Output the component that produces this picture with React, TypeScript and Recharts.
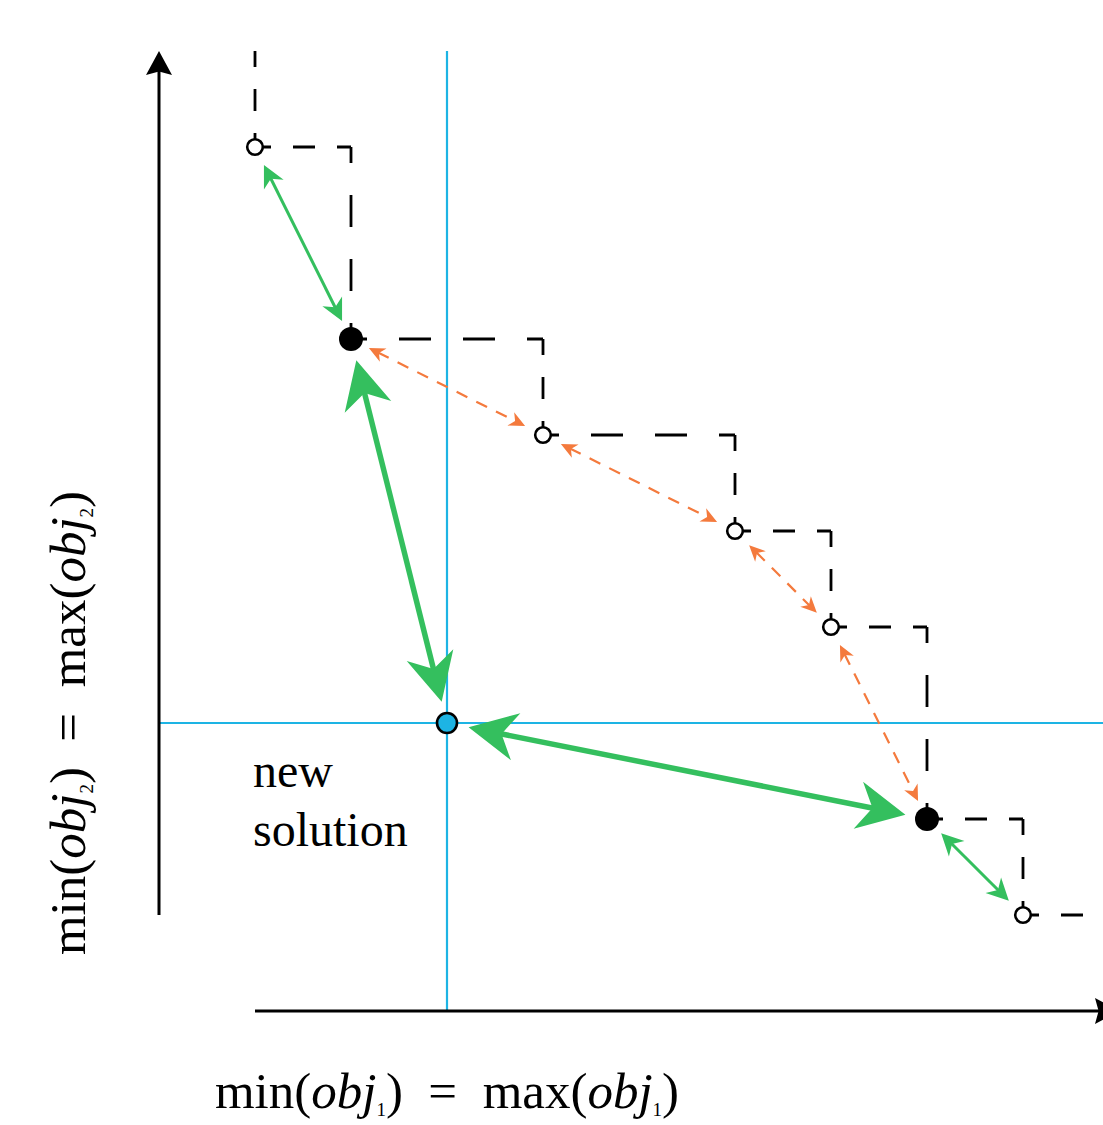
import React from 'react'
import { ComposedChart, XAxis, YAxis, Scatter, ReferenceLine } from 'recharts'

type Pt = { x: number; y: number }

// dominated front (obj1, obj2), walked from top-left to bottom-right
const frontier: Pt[] = [
  { x: 1, y: 10 }, { x: 1, y: 9 }, { x: 2, y: 7 }, { x: 4, y: 6 }, { x: 6, y: 5 },
  { x: 7, y: 4 }, { x: 8, y: 2 }, { x: 9, y: 1 }, { x: 10, y: 1 },
]
const openPoints: Pt[] = [{ x: 1, y: 9 }, { x: 4, y: 6 }, { x: 6, y: 5 }, { x: 7, y: 4 }, { x: 9, y: 1 }]
const neighbourPoints: Pt[] = [{ x: 2, y: 7 }, { x: 8, y: 2 }]
const newPoint: Pt[] = [{ x: 3, y: 3 }]

const thinLinks: Pt[][] = [
  [{ x: 1, y: 9 }, { x: 2, y: 7 }],
  [{ x: 8, y: 2 }, { x: 9, y: 1 }],
]
const thickLinks: Pt[][] = [
  [{ x: 2, y: 7 }, { x: 3, y: 3 }],
  [{ x: 3, y: 3 }, { x: 8, y: 2 }],
]
const removedLinks: Pt[][] = [
  [{ x: 2, y: 7 }, { x: 4, y: 6 }],
  [{ x: 4, y: 6 }, { x: 6, y: 5 }],
  [{ x: 6, y: 5 }, { x: 7, y: 4 }],
  [{ x: 7, y: 4 }, { x: 8, y: 2 }],
]

const axisX: Pt[] = [{ x: 1, y: 0 }, { x: 10, y: 0 }]
const axisY: Pt[] = [{ x: 0, y: 1 }, { x: 0, y: 10 }]
const newX = 3
const newY = 3

const GREEN = '#34BF5E'
const ORANGE = '#F47A3D'
const BLUE = '#1DB4E4'
const FONT = '"Liberation Serif", "DejaVu Serif", serif'
const SP = '\u00A0'

// horizontal + vertical pieces of the staircase
const steps: Pt[][] = []
for (let i = 0; i < frontier.length - 1; i++) {
  const a = frontier[i], b = frontier[i + 1]
  if (a.x !== b.x) steps.push([{ x: a.x, y: a.y }, { x: b.x, y: a.y }])
  if (a.y !== b.y) steps.push([{ x: b.x, y: a.y }, { x: b.x, y: b.y }])
}

const stepShape = (p: any) => {
  const len = Math.hypot(p.x2 - p.x1, p.y2 - p.y1)
  const d = len > 150 ? 32 : 22
  return (
    <line x1={p.x1} y1={p.y1} x2={p.x2} y2={p.y2} stroke="#000" strokeWidth={2.8}
          strokeDasharray={`${d} ${d}`} strokeDashoffset={d - 16} />
  )
}

type ArrowOpt = { color: string; width: number; gap: number; L: number; W: number; notch: number; dash?: string; both: boolean }

function arrowShape(o: ArrowOpt) {
  return (p: any) => {
    const dx = p.x2 - p.x1, dy = p.y2 - p.y1
    const len = Math.hypot(dx, dy)
    const ux = dx / len, uy = dy / len
    const nx = -uy, ny = ux
    const sx = p.x1 + ux * o.gap, sy = p.y1 + uy * o.gap
    const ex = p.x2 - ux * o.gap, ey = p.y2 - uy * o.gap
    const head = (tx: number, ty: number, dx0: number, dy0: number) => {
      const bx = tx - dx0 * o.L, by = ty - dy0 * o.L
      const mx = tx - dx0 * o.L * o.notch, my = ty - dy0 * o.L * o.notch
      const pts = [
        [tx, ty], [bx + nx * o.W / 2, by + ny * o.W / 2], [mx, my], [bx - nx * o.W / 2, by - ny * o.W / 2],
      ]
      return pts.map(q => q.join(',')).join(' ')
    }
    const back = o.L * o.notch * 0.9
    const lx1 = o.both ? sx + ux * back : sx
    const ly1 = o.both ? sy + uy * back : sy
    return (
      <g>
        <line x1={lx1} y1={ly1} x2={ex - ux * back} y2={ey - uy * back}
              stroke={o.color} strokeWidth={o.width} strokeDasharray={o.dash} />
        <polygon points={head(ex, ey, ux, uy)} fill={o.color} />
        {o.both && <polygon points={head(sx, sy, -ux, -uy)} fill={o.color} />}
      </g>
    )
  }
}

const thinArrow = arrowShape({ color: GREEN, width: 3, gap: 20, L: 22, W: 22, notch: 0.7, both: true })
const thickArrow = arrowShape({ color: GREEN, width: 5.5, gap: 22, L: 48, W: 48, notch: 0.7, both: true })
const dashArrow = arrowShape({ color: ORANGE, width: 2.2, gap: 20, L: 16, W: 15, notch: 0.7, dash: '12 10', both: true })
const axisArrow = arrowShape({ color: '#000', width: 3, gap: 0, L: 24, W: 26, notch: 0.85, both: false })

const openDot = (p: any) => <circle cx={p.cx} cy={p.cy} r={7.8} fill="#fff" stroke="#000" strokeWidth={2.6} />
const fullDot = (p: any) => <circle cx={p.cx} cy={p.cy} r={12} fill="#000" />
const newDot = (p: any) => <circle cx={p.cx} cy={p.cy} r={10} fill={BLUE} stroke="#000" strokeWidth={2.6} />

const seg = (s: Pt[]) => [{ x: s[0].x, y: s[0].y }, { x: s[1].x, y: s[1].y }] as any

function AxisTitle({ sub }: { sub: string }) {
  return (
    <>
      min(<tspan fontStyle="italic">obj</tspan>
      <tspan fontSize={19} dy={8}>{sub}</tspan>
      <tspan dy={-8}>{`)${SP}${SP}=${SP}${SP}max(`}</tspan>
      <tspan fontStyle="italic">obj</tspan>
      <tspan fontSize={19} dy={8}>{sub}</tspan>
      <tspan dy={-8}>)</tspan>
    </>
  )
}

export default function App() {
  return (
    <div style={{ position: 'absolute', left: 0, top: 0, background: '#fff' }}>
      <ComposedChart width={1103} height={1125} margin={{ top: 0, right: 0, bottom: 114, left: 159 }}>
        <XAxis type="number" dataKey="x" domain={[0, 944 / 96]} hide allowDataOverflow />
        <YAxis type="number" dataKey="y" domain={[0, 1011 / 96]} hide allowDataOverflow />

        {steps.map((s, i) => (
          <ReferenceLine key={'s' + i} segment={seg(s)} ifOverflow="visible" shape={stepShape} />
        ))}
        <ReferenceLine segment={[{ x: newX, y: 0 }, { x: newX, y: 10 }]} ifOverflow="visible" stroke={BLUE} strokeWidth={2.2} />
        <ReferenceLine y={newY} ifOverflow="visible" stroke={BLUE} strokeWidth={2.2} />
        <ReferenceLine segment={seg(axisY)} ifOverflow="visible" shape={axisArrow} />
        <ReferenceLine segment={seg(axisX)} ifOverflow="visible" shape={axisArrow} />

        {removedLinks.map((s, i) => (
          <ReferenceLine key={'r' + i} segment={seg(s)} ifOverflow="visible" shape={dashArrow} />
        ))}
        {thinLinks.map((s, i) => (
          <ReferenceLine key={'t' + i} segment={seg(s)} ifOverflow="visible" shape={thinArrow} />
        ))}
        {thickLinks.map((s, i) => (
          <ReferenceLine key={'k' + i} segment={seg(s)} ifOverflow="visible" shape={thickArrow} />
        ))}

        <Scatter data={openPoints} shape={openDot} isAnimationActive={false} />
        <Scatter data={neighbourPoints} shape={fullDot} isAnimationActive={false} />
        <Scatter data={newPoint} shape={newDot} isAnimationActive={false} />

        <text x={253} y={787} fontFamily={FONT} fontSize={48} fill="#000">new</text>
        <text x={253} y={846} fontFamily={FONT} fontSize={48} fill="#000">solution</text>

        <text x={447} y={1108} textAnchor="middle" fontFamily={FONT} fontSize={51} fill="#000">
          <AxisTitle sub="1" />
        </text>
        <text x={85} y={723} transform="rotate(-90, 85, 723)" textAnchor="middle" fontFamily={FONT} fontSize={51} fill="#000">
          <AxisTitle sub="2" />
        </text>
      </ComposedChart>
    </div>
  )
}
